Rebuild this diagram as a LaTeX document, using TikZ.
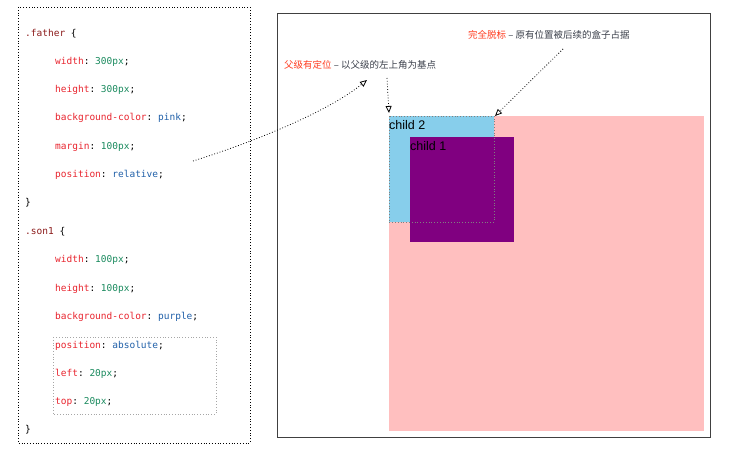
\documentclass[tikz,border=0pt]{standalone}
\usepackage{fontspec}
\setmainfont{Liberation Sans}
\setmonofont{DejaVu Sans Mono}
\newfontfamily\cjk{Noto Sans CJK SC}
\usetikzlibrary{arrows.meta}
\definecolor{kw}{HTML}{E8242E}
\definecolor{num}{HTML}{1A8A5E}
\definecolor{val}{HTML}{1F5FA8}
\definecolor{sel}{HTML}{8B1A1A}
\definecolor{note}{HTML}{FF3B1F}
\definecolor{gtext}{HTML}{3A3F4A}
\begin{document}
\begin{tikzpicture}[x=1pt,y=-1pt,
  code/.style={anchor=west,font=\ttfamily\fontsize{9.5}{11}\selectfont,inner sep=0pt},
  ann/.style={anchor=west,font=\cjk\fontsize{9.5}{11}\selectfont,inner sep=0pt},
  lbl/.style={anchor=north west,font=\fontsize{12.5}{14}\selectfont,inner sep=0pt},
  dotarrow/.style={dotted,thick,-{Triangle[open,length=7pt,width=6pt]}}]
\useasboundingbox (0,0) rectangle (744,457);
% code panel
\draw[dotted,thick] (18,7) rectangle (250,443);
\node[code] (l1) at (25,34) {\textcolor{sel}{.father} \{};
\node[code] (l2) at (55,62) {\textcolor{kw}{width}: \textcolor{num}{300px};};
\node[code] (l3) at (55,90) {\textcolor{kw}{height}: \textcolor{num}{300px};};
\node[code] (l4) at (55,118) {\textcolor{kw}{background-color}: \textcolor{val}{pink};};
\node[code] (l5) at (55,147) {\textcolor{kw}{margin}: \textcolor{num}{100px};};
\node[code] (l6) at (55,175) {\textcolor{kw}{position}: \textcolor{val}{relative};};
\node[code] (l7) at (25,203) {\}};
\node[code] (l8) at (25,232) {\textcolor{sel}{.son1} \{};
\node[code] (l9) at (55,260) {\textcolor{kw}{width}: \textcolor{num}{100px};};
\node[code] (l10) at (55,289) {\textcolor{kw}{height}: \textcolor{num}{100px};};
\node[code] (l11) at (55,317) {\textcolor{kw}{background-color}: \textcolor{val}{purple};};
\node[code] (l12) at (55,346) {\textcolor{kw}{position}: \textcolor{val}{absolute};};
\node[code] (l13) at (55,374) {\textcolor{kw}{left}: \textcolor{num}{20px};};
\node[code] (l14) at (55,402) {\textcolor{kw}{top}: \textcolor{num}{20px};};
\node[code] (l15) at (25,430) {\}};
\draw[kw!80!black,double,double distance=1.5pt,line width=0.6pt] (53,163) rectangle (217,189);
\coordinate (relbox) at (193,161);
\draw[gray!70,dotted,thick] (53,337) rectangle (216,414);
% right panel
\draw[black!75,line width=0.8pt] (277,13) rectangle (710,437);
\fill[pink] (389,116) rectangle (704,431);
\fill[cyan!45!blue!35!white, fill={rgb,255:red,135;green,206;blue,235}] (389,116) rectangle (494,222);
\fill[fill={rgb,255:red,128;green,0;blue,128}] (410,137) rectangle (514,242);
\draw[gray,dotted,thick] (389,116) rectangle (494,222);
\node[lbl] (c2) at (389,120) {child 2};
\node[lbl] (c1) at (410,141) {child 1};
\coordinate (tl) at (389,113);
\coordinate (tr) at (495,116);
\node[ann] (a1) at (284,65) {\textcolor{note}{父级有定位} \textcolor{gtext}{– 以父级的左上角为基点}};
\node[ann] (a2) at (468,35) {\textcolor{note}{完全脱标} \textcolor{gtext}{– 原有位置被后续的盒子占据}};
\coordinate (a1arr) at (367,80);
\coordinate (a1src) at (387,78);
\coordinate (a2src) at (563,49);
\draw[dotarrow] (relbox) .. controls (260,140) and (330,110) .. (a1arr);
\draw[dotarrow] (a1src) -- (tl);
\draw[dotarrow] (a2src) -- (tr);
\end{tikzpicture}
\end{document}
